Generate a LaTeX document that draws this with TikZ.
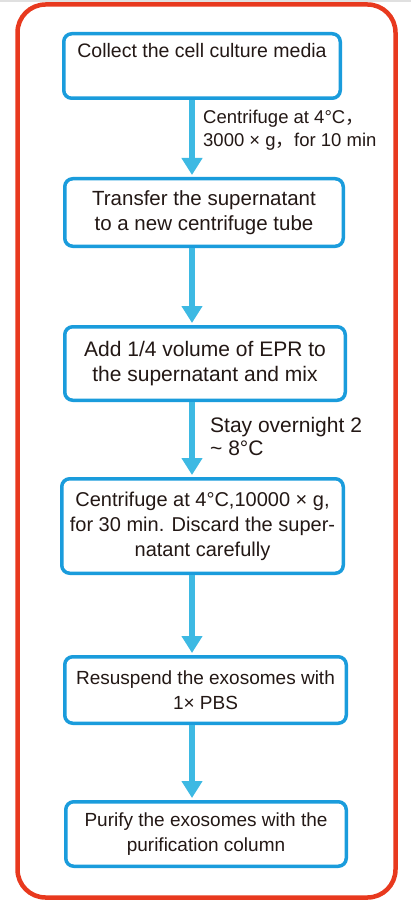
\documentclass[tikz,border=0pt]{standalone}
\usepackage{fontspec}
\setmainfont{Liberation Sans}
\newfontfamily\cjkfont{Noto Sans CJK SC}
\usetikzlibrary{arrows.meta}
\definecolor{framered}{HTML}{E8391E}
\definecolor{boxblue}{HTML}{1A9CDC}
\definecolor{arrowblue}{HTML}{3DB9E3}
\definecolor{ink}{HTML}{231815}
\newcommand{\fwc}{{\cjkfont ，}}
\newcommand{\fsz}[1]{\fontsize{#1}{25}\selectfont}
\begin{document}
\begin{tikzpicture}[x=1pt,y=-1pt,
  box/.style={draw=boxblue, line width=3.5pt, rounded corners=8pt, fill=white,
    align=center, inner sep=0pt, text=ink},
  flow/.style={arrowblue, line width=6pt, shorten >=2pt,
    -{Triangle[width=20pt,length=17pt]}},
  lab/.style={anchor=west, align=left, inner sep=0pt, text=ink}]
\useasboundingbox (0,0) rectangle (411,901);
\fill[white] (0,0) rectangle (411,901);
\fill[black!12] (0,0) rectangle (411,2.5);
\draw[framered, line width=4.5pt, rounded corners=28pt] (17.5,4.5) rectangle (395.5,897.5);

\node[box, minimum width=276.5pt, minimum height=64.5pt, font=\fsz{19.5}] (b1) at (202,66)
  {Collect the cell culture media\\[6pt]\mbox{}};
\node[box, minimum width=278.5pt, minimum height=67.5pt, font=\fsz{20.5}] (b2) at (204,212.5)
  {Transfer the supernatant\\to a new centrifuge tube};
\node[box, minimum width=280.5pt, minimum height=73.5pt, font=\fsz{21}] (b3) at (205,363.5)
  {Add 1/4 volume of EPR to\\the supernatant and mix};
\node[box, minimum width=281.5pt, minimum height=94.5pt, font=\fsz{20}] (b4) at (202.5,526)
  {Centrifuge at 4°C,10000 × g,\\for 30 min. Discard the super-\\natant carefully};
\node[box, minimum width=281.5pt, minimum height=66.5pt, font=\fsz{19}] (b5) at (205.5,690)
  {Resuspend the exosomes with\\1× PBS};
\node[box, minimum width=280.5pt, minimum height=64.5pt, font=\fsz{19}] (b6) at (206,834)
  {Purify the exosomes with the\\purification column};

\coordinate (ax) at (192,0);
\draw[flow] (b1.south -| ax) -- (b2.north -| ax);
\draw[flow] (b2.south -| ax) -- (b3.north -| ax);
\draw[flow] (b3.south -| ax) -- (b4.north -| ax);
\draw[flow] (b4.south -| ax) -- (b5.north -| ax);
\draw[flow] (b5.south -| ax) -- (b6.north -| ax);

\node[lab, font=\fontsize{18.5}{23}\selectfont] (l1) at (203,130.5)
  {Centrifuge at 4°C\fwc\\3000 × g\fwc for 10 min};
\node[lab, font=\fontsize{21}{23}\selectfont] (l2) at (210,436.5)
  {Stay overnight 2\\\textasciitilde\ 8°C};
\end{tikzpicture}
\end{document}
